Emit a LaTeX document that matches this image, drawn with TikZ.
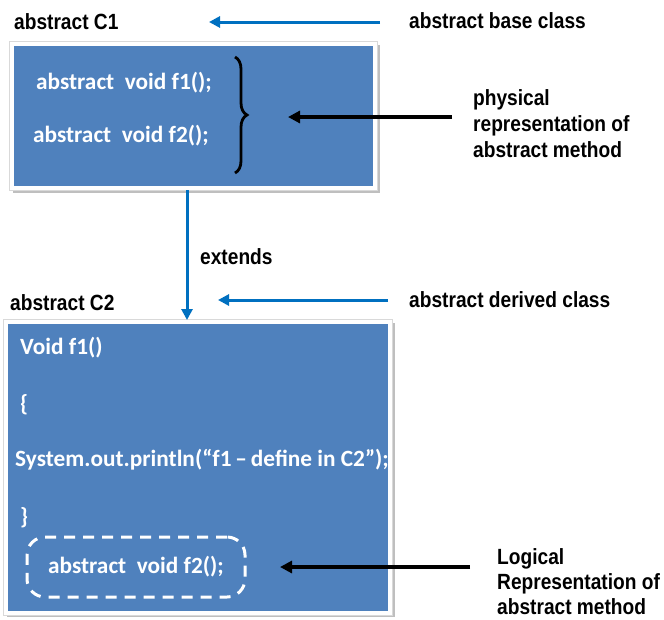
\documentclass[tikz,border=0pt]{standalone}
\usepackage{fontspec}
\setmainfont{Liberation Sans}
\newfontfamily\labfont[FakeStretch=0.87]{Liberation Sans}
\newfontfamily\codefont{Carlito}
\usetikzlibrary{arrows.meta,decorations.pathreplacing,backgrounds}
\definecolor{boxblue}{RGB}{79,129,189}
\definecolor{arrblue}{RGB}{0,112,192}
\tikzset{
  lab/.style={font=\labfont\bfseries\fontsize{22}{26}\selectfont, anchor=west, inner sep=0pt, align=left},
  code/.style={font=\codefont\bfseries\fontsize{23.3}{28}\selectfont, text=white, anchor=west, inner sep=0pt},
  classbox/.style={fill=boxblue, draw=white, line width=4pt},
  bluearrow/.style={draw=arrblue, line width=3pt, -{Triangle[length=11pt,width=11pt]}},
  blackarrow/.style={draw=black, line width=3.2pt, -{Triangle[length=12pt,width=12pt]}},
  dashbox/.style={draw=white, line width=3pt, dash pattern=on 11pt off 8pt, rounded corners=18pt, minimum width=218pt, minimum height=60pt, inner sep=0pt},
  shadowfill/.style={fill=black!25},
  outline/.style={draw=black!15, line width=0.8pt},
}
\begin{document}
\begin{tikzpicture}[x=1pt,y=-1pt]
\useasboundingbox (0,0) rectangle (664,619);
% boxes
\node[classbox, minimum width=363pt, minimum height=144pt] (box1) at (193.5,116) {};
\node[classbox, minimum width=384pt, minimum height=290.5pt] (box2) at (197.5,467.25) {};
\begin{scope}[on background layer]
  \fill[shadowfill] (13,45) rectangle (380,193);
  \fill[shadowfill] (6.5,323) rectangle (395,617);
\end{scope}
\draw[outline] (9.5,41.5) rectangle (377.5,190.5);
\draw[outline] (3,319.5) rectangle (392,615);
% titles
\node[lab] (c1) at (14,22) {abstract C1};
\node[lab] (c2) at (10,303) {abstract C2};
\node[lab] (base) at (409,21) {abstract base class};
\node[lab] (derived) at (409,300) {abstract derived class};
\node[lab] (extends) at (200,257) {extends};
\node[lab] (phys) at (473,124) {physical\\representation of\\abstract method};
\node[lab, font=\labfont\bfseries\fontsize{22}{25}\selectfont] (logic) at (497,582) {Logical\\Representation of\\abstract method};
% code in box 1
\node[code] (f1) at (36,83) {abstract\ \ void f1();};
\node[code] (f2) at (33,136) {abstract\ \ void f2();};
% code in box 2
\node[code] (v1) at (20,348) {Void f1()};
\node[code] (ob) at (20,405) {\{};
\node[code] (sys) at (15,460) {System.out.println(“f1\,–\,define in C2”);};
\node[code] (cb) at (20,518) {\}};
\node[code, dashbox, anchor=center] (f2b) at (136,567) {abstract\ \ void f2();};
% brace
\coordinate (bt) at (235,57);
\coordinate (bb) at (235,173);
\draw[decorate, decoration={brace, amplitude=12pt}, line width=2.8pt] (bt) -- (bb);
% arrows
\coordinate (a1s) at (380,22);
\coordinate (a1e) at (209,22);
\draw[bluearrow] (a1s) -- (a1e);
\coordinate (a2s) at (388,300);
\coordinate (a2e) at (218,300);
\draw[bluearrow] (a2s) -- (a2e);
\coordinate (vx) at (187,0);
\draw[bluearrow] (box1.south -| vx) -- (box2.north -| vx);
\coordinate (p1s) at (452,117);
\coordinate (p1e) at (288,117);
\draw[blackarrow] (p1s) -- (p1e);
\coordinate (p2s) at (470,567);
\coordinate (p2e) at (280,567);
\draw[blackarrow] (p2s) -- (p2e);
\end{tikzpicture}
\end{document}
